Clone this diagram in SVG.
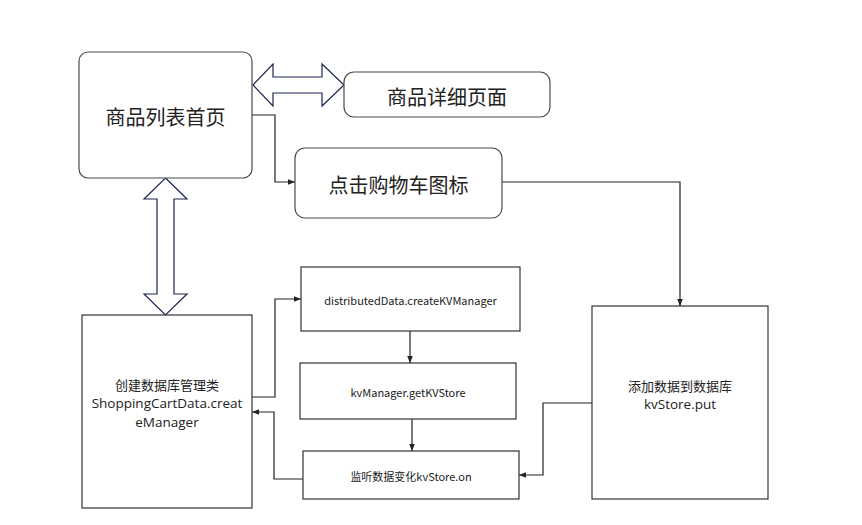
<svg xmlns="http://www.w3.org/2000/svg" width="862" height="525" viewBox="0 0 862 525">
<defs>
<style>
.box{fill:#fff;stroke:#4a4a4a;stroke-width:1.2}
.sq{fill:#fff;stroke:#333;stroke-width:1.2}
.big{font-family:"Noto Sans CJK SC",sans-serif;font-size:20px;fill:#222;text-anchor:middle;dominant-baseline:central}
.mid{font-family:"Noto Sans CJK SC",sans-serif;font-size:13px;fill:#222;text-anchor:middle;dominant-baseline:central}
.lat{font-family:"Open Sans","Noto Sans CJK SC",sans-serif;font-size:13.5px;fill:#222;text-anchor:middle;dominant-baseline:central}
.sm{font-family:"Noto Sans CJK SC",sans-serif;font-size:11px;fill:#222;text-anchor:middle;dominant-baseline:central}
.con{fill:none;stroke:#222;stroke-width:1.2}
.dbl{fill:#fff;stroke:#1e2650;stroke-width:1.2}
</style>
<marker id="ah" viewBox="0 0 10 10" refX="10" refY="5" markerWidth="7" markerHeight="7" orient="auto" markerUnits="userSpaceOnUse">
<path d="M0,1 L10,5 L0,9 Z" fill="#222"/>
</marker>
</defs>
<rect width="862" height="525" fill="#fff"/>
<g id="connectors">
<polygon class="dbl" points="253,85 273,64 273,77 322,77 322,64 344,85 322,106 322,93 273,93 273,106"/>
<polygon class="dbl" points="165.5,178 187,199 174,199 174,294 187,294 165.5,315 144,294 157,294 157,199 144,199"/>
<polyline class="con" points="252,115 275,115 275,182 295,182" marker-end="url(#ah)"/>
<polyline class="con" points="502,182 680,182 680,306" marker-end="url(#ah)"/>
<polyline class="con" points="252,397 275,397 275,299 301,299" marker-end="url(#ah)"/>
<polyline class="con" points="410,331 410,363" marker-end="url(#ah)"/>
<polyline class="con" points="412,419 412,451" marker-end="url(#ah)"/>
<polyline class="con" points="303,479 274,479 274,412 252,412" marker-end="url(#ah)"/>
<polyline class="con" points="592,403 543,403 543,475 519,475" marker-end="url(#ah)"/>
</g>
<g id="home">
<rect class="box" x="79" y="52" width="173" height="126" rx="9"/>
<text class="big" x="165.5" y="116">商品列表首页</text>
</g>
<g id="detail">
<rect class="box" x="344" y="72" width="206" height="45" rx="10"/>
<text class="big" x="447" y="96">商品详细页面</text>
</g>
<g id="cart">
<rect class="box" x="295" y="148" width="207" height="70" rx="10"/>
<text class="big" x="398.5" y="184">点击购物车图标</text>
</g>
<g id="create">
<rect class="sq" x="82" y="315" width="170" height="193"/>
<text class="mid" x="167" y="384">创建数据库管理类</text>
<text class="lat" x="167" y="403">ShoppingCartData.creat</text>
<text class="lat" x="167" y="422">eManager</text>
</g>
<g id="kvmanager">
<rect class="sq" x="301" y="267" width="219" height="64"/>
<text class="sm" x="410.5" y="300">distributedData.createKVManager</text>
</g>
<g id="getstore">
<rect class="sq" x="300" y="363" width="216" height="56"/>
<text class="sm" x="408" y="392">kvManager.getKVStore</text>
</g>
<g id="listen">
<rect class="sq" x="303" y="451" width="216" height="48"/>
<text class="sm" x="411" y="476">监听数据变化kvStore.on</text>
</g>
<g id="put">
<rect class="sq" x="592" y="306" width="176" height="193"/>
<text class="mid" x="680" y="385">添加数据到数据库</text>
<text class="lat" x="680" y="404">kvStore.put</text>
</g>
</svg>
